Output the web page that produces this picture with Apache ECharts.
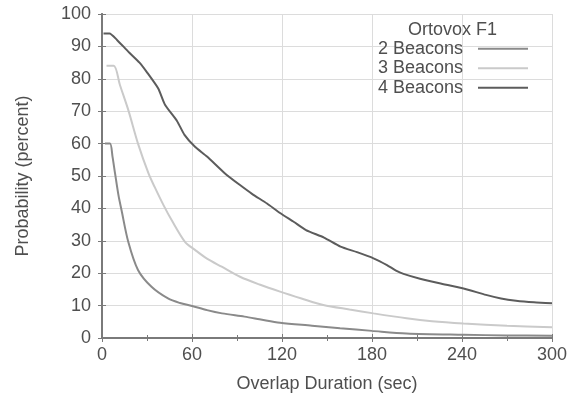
<!DOCTYPE html>
<html><head><meta charset="utf-8">
<script src="https://cdn.jsdelivr.net/npm/echarts@6/dist/echarts.min.js"></script>
<style>html,body{margin:0;padding:0;background:#fff}#c{width:579px;height:400px}</style>
</head><body><div id="c"></div>
<script>
var legendTitle = 'Ortovox F1';
var seriesNames = ['2 Beacons', '3 Beacons', '4 Beacons'];
var xTicks = [0, 60, 120, 180, 240, 300];
var yTicks = [0, 10, 20, 30, 40, 50, 60, 70, 80, 90, 100];

var t2 = [2, 5.3, 7, 8.7, 11, 13, 17.5, 24, 33, 44, 52, 60, 70, 80, 95, 105, 118.7, 140, 158.7, 180, 203, 241, 270, 300];
var v2 = [60, 60, 56, 50.8, 44, 39.5, 29.7, 21, 15.8, 12.2, 10.8, 9.9, 8.6, 7.6, 6.6, 5.8, 4.7, 3.8, 3, 2.2, 1.4, 1, 0.8, 0.7];

var t3 = [3, 7.8, 12, 17.5, 24, 31, 35, 41, 46.4, 55.3, 62, 70, 79.8, 92, 105, 118.7, 133, 147.5, 165, 181, 203, 220, 241, 270, 300];
var v3 = [84, 84, 78, 70.4, 60, 50.8, 46.7, 41, 36.4, 29.7, 27.2, 24.5, 22, 18.9, 16.5, 14.3, 12.2, 10.2, 8.8, 7.6, 6.1, 5.2, 4.5, 3.8, 3.3];

var t4 = [1, 5, 10, 17.5, 25, 30, 37.5, 42, 50, 55, 62, 70, 82, 92, 100, 110, 119, 128, 136, 148, 159, 170, 181, 190, 196, 201, 212, 225, 241, 256, 266, 276, 288, 300];
var v4 = [94, 94, 92, 88.4, 85, 82, 77, 72, 67, 62.7, 59, 56, 50.8, 47.2, 44.5, 41.5, 38.5, 35.8, 33.3, 31, 28.2, 26.5, 24.6, 22.5, 20.8, 19.8, 18.3, 16.9, 15.3, 13.3, 12.2, 11.5, 11, 10.7];

function pairs(t, v) { return t.map(function (x, i) { return [x, v[i]]; }); }

var colors = ['#8a8a8a', '#cacaca', '#5c5c5c'];
var txt = '#4f4f4f';
var axisCol = '#7a7a7a';
var font = 'Liberation Sans, Arial, sans-serif';

var chart = echarts.init(document.getElementById('c'), null, {renderer: 'canvas'});
var ax = {
  lineStyle: {color: axisCol, width: 2}
};
chart.setOption({
  animation: false,
  backgroundColor: '#fff',
  textStyle: {fontFamily: font},
  title: {
    text: legendTitle, right: 82, top: 21,
    textStyle: {fontFamily: font, fontSize: 18, fontWeight: 'normal', color: txt},
    padding: 0
  },
  legend: {
    data: seriesNames,
    orient: 'vertical', align: 'right', right: 51, top: 39,
    icon: 'rect', itemWidth: 50, itemHeight: 2, itemGap: 0, padding: 0,
    textStyle: {fontFamily: font, fontSize: 18, lineHeight: 19.5, color: txt, padding: [0, 10, 0, 0]}
  },
  grid: {left: 102, right: 27, top: 14, bottom: 62, containLabel: false},
  xAxis: [{
    type: 'value', min: xTicks[0], max: xTicks[xTicks.length - 1], interval: 60,
    name: 'Overlap Duration (sec)', nameLocation: 'middle', nameGap: 37,
    nameTextStyle: {fontFamily: font, fontSize: 18, color: txt},
    axisLine: ax, axisTick: {inside: true, length: 4, lineStyle: {color: axisCol}},
    minorTick: {show: true, splitNumber: 2, length: 3, lineStyle: {color: axisCol}},
    axisLabel: {fontFamily: font, fontSize: 18, color: txt, margin: 8},
    splitLine: {show: true, lineStyle: {color: '#dcdcdc', width: 1}}
  }, {
    type: 'value', position: 'top', min: 0, max: 300, interval: 60,
    axisLine: ax, axisTick: {inside: true, length: 4, lineStyle: {color: axisCol}},
    minorTick: {show: true, splitNumber: 2, length: 3, lineStyle: {color: axisCol}},
    axisLabel: {show: false}, splitLine: {show: false}
  }],
  yAxis: [{
    type: 'value', min: yTicks[0], max: yTicks[yTicks.length - 1], interval: 10,
    name: 'Probability (percent)', nameLocation: 'middle', nameGap: 70,
    nameTextStyle: {fontFamily: font, fontSize: 18, color: txt},
    axisLine: ax, axisTick: {inside: true, length: 4, lineStyle: {color: axisCol}},
    axisLabel: {fontFamily: font, fontSize: 18, color: txt, margin: 11},
    splitLine: {show: true, lineStyle: {color: '#dcdcdc', width: 1}}
  }, {
    type: 'value', position: 'right', min: 0, max: 100, interval: 10,
    axisLine: ax, axisTick: {inside: true, length: 4, lineStyle: {color: axisCol}},
    axisLabel: {show: false}, splitLine: {show: false}
  }],
  series: [
    {name: seriesNames[0], type: 'line', symbol: 'none', smooth: 0.3, data: pairs(t2, v2),
     lineStyle: {color: colors[0], width: 2}, itemStyle: {color: colors[0]}},
    {name: seriesNames[1], type: 'line', symbol: 'none', smooth: 0.3, data: pairs(t3, v3),
     lineStyle: {color: colors[1], width: 2}, itemStyle: {color: colors[1]}},
    {name: seriesNames[2], type: 'line', symbol: 'none', smooth: 0.2, data: pairs(t4, v4),
     lineStyle: {color: colors[2], width: 2}, itemStyle: {color: colors[2]}}
  ]
});
</script>
</body></html>
